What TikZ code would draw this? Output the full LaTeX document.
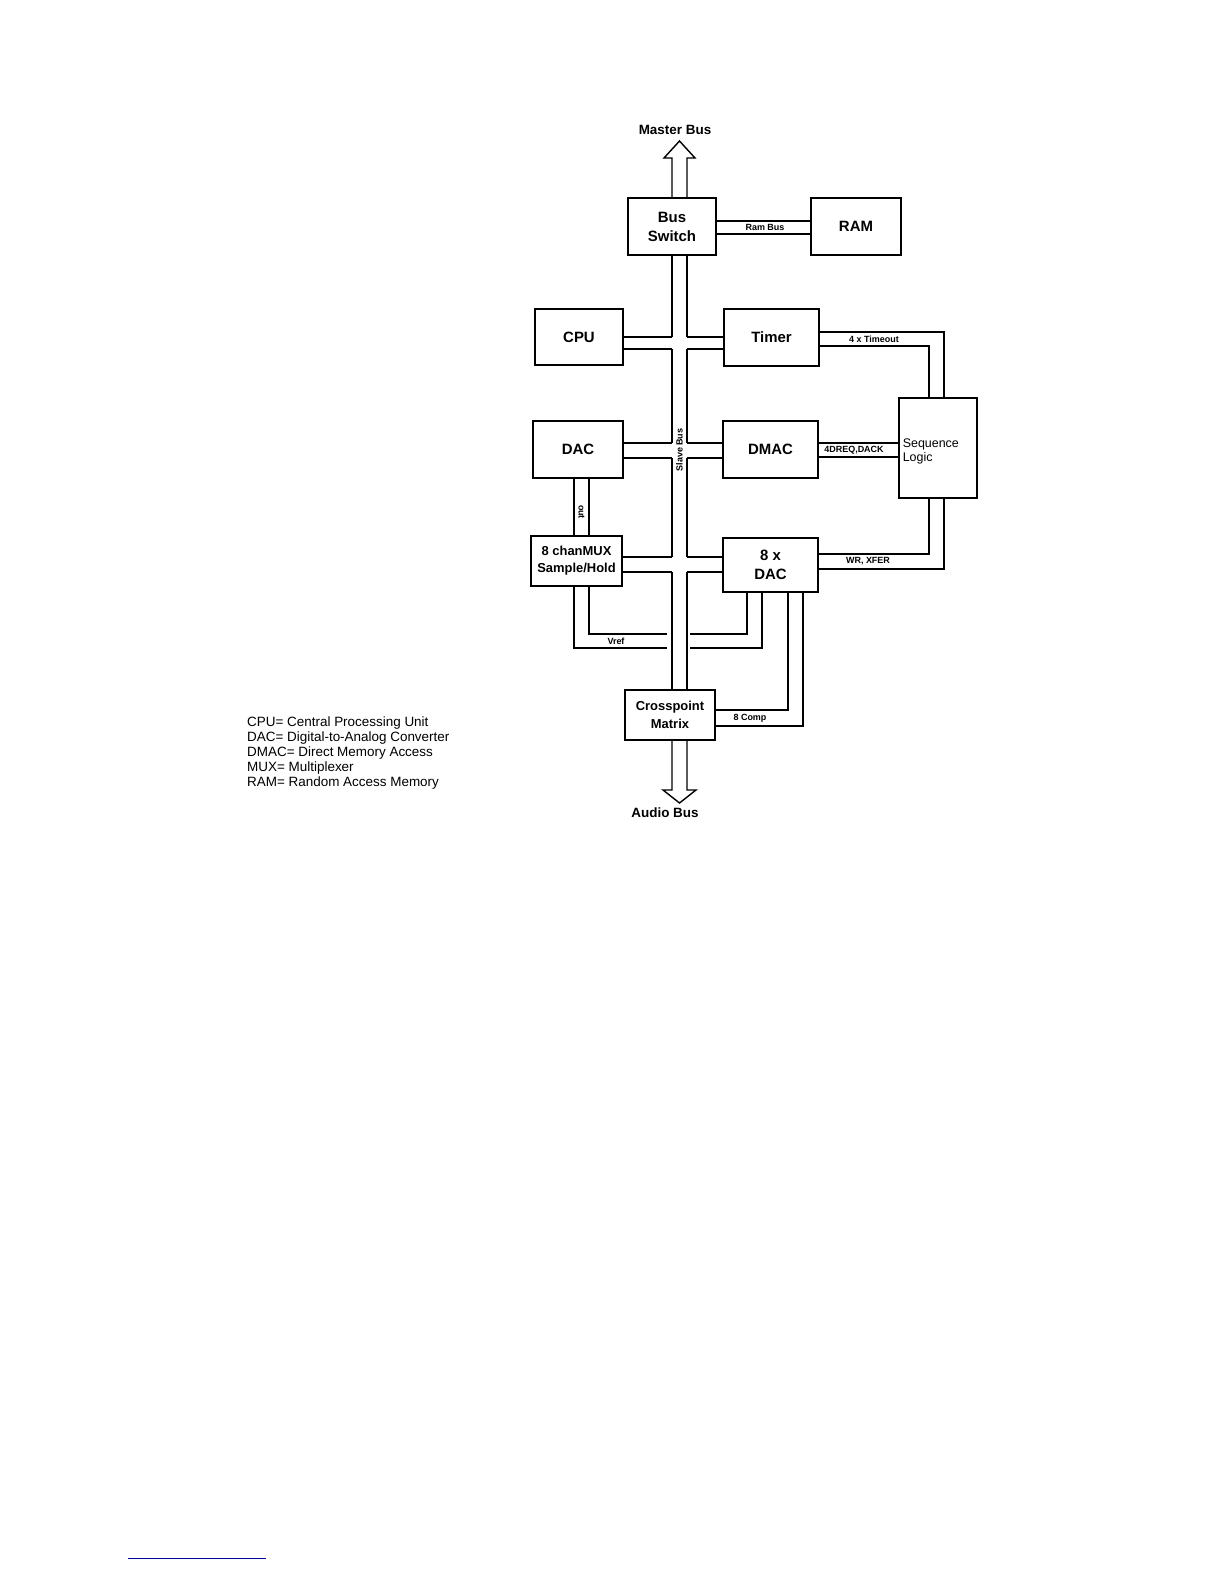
\documentclass[tikz,border=0pt]{standalone}
\usepackage{fontspec}
\setmainfont{Liberation Sans}
\usetikzlibrary{calc}
\tikzset{
	every block/.style={
		draw,
		line width=1.6bp,
		font=\fontsize{15}{17}\selectfont\bfseries,
		align=center,
		inner sep=0pt
	},
	wire/.style={line width=1.4bp},
	tag/.style={font=\fontsize{9}{10}\selectfont\bfseries, inner sep=1pt},
}
\begin{document}
\begin{tikzpicture}[x=1bp, y=-1bp]
\useasboundingbox (0,0) rectangle (1224,1584);

% blocks
\node [every block, minimum width=88bp, minimum height=57bp] (bs) at (672,226.5) {Bus\\[2pt]Switch};
\node [every block, minimum width=90bp, minimum height=57bp] (ram) at (856,226.5) {RAM};
\node [every block, minimum width=88bp, minimum height=56bp] (cpu) at (579,337) {CPU};
\node [every block, minimum width=95bp, minimum height=57bp] (timer) at (771.5,337.5) {Timer};
\node [every block, minimum width=90bp, minimum height=57bp] (dac) at (578,449.5) {DAC};
\node [every block, minimum width=95bp, minimum height=57bp] (dmac) at (770.5,449.5) {DMAC};
\node [every block, minimum width=76bp, minimum height=100bp, font=\fontsize{12.5}{14}\selectfont, anchor=north west, text width=70bp, align=left, inner sep=4bp] (seq) at (898,397) {\\[2pt]Sequence\\Logic};
\node [every block, minimum width=91bp, minimum height=50bp, font=\fontsize{13}{17}\selectfont\bfseries] (mux) at (576.5,561) {8 chanMUX\\Sample/Hold};
\node [every block, minimum width=95bp, minimum height=54bp] (dac8) at (770.5,565) {8 x\\[2pt]DAC};
\node [every block, minimum width=90bp, minimum height=50bp, font=\fontsize{13}{18}\selectfont\bfseries] (cp) at (670,715) {Crosspoint\\Matrix};

% slave bus
\coordinate (bl) at (672,0);
\coordinate (br) at (687,0);
\foreach \a/\b in {255/337, 349/443, 458/557, 572/690} {
	\draw [wire] (bl |- 0,\a) -- (bl |- 0,\b);
	\draw [wire] (br |- 0,\a) -- (br |- 0,\b);
}
\foreach \y/\l/\r in {337/cpu/timer, 349/cpu/timer, 443/dac/dmac, 458/dac/dmac, 557/mux/dac8, 572/mux/dac8} {
	\draw [wire] (\l.east |- 0,\y) -- (bl |- 0,\y);
	\draw [wire] (br |- 0,\y) -- (\r.west |- 0,\y);
}
\node [tag, rotate=90] at (679.5,450) {Slave Bus};

% master bus and audio bus
\draw [wire] (bl |- bs.north) -- (672,158) -- (664,158) -- (679.5,141) -- (695,158) -- (687,158) -- (br |- bs.north);
\draw [wire] (bl |- cp.south) -- (672,790) -- (663,790) -- (679.5,803) -- (696,790) -- (687,790) -- (br |- cp.south);
\node [font=\fontsize{13.5}{15}\selectfont\bfseries] (mbus) at (675,130) {Master Bus};
\node [font=\fontsize{13.5}{15}\selectfont\bfseries] (abus) at (665,813) {Audio Bus};

% ram bus
\draw [wire] (bs.east |- 0,221) -- (ram.west |- 0,221);
\draw [wire] (bs.east |- 0,234) -- (ram.west |- 0,234);
\node [tag] at (765,227.5) {Ram Bus};

% timer, dmac, 8x dac to sequence logic
\draw [wire] (timer.east |- 0,332) -- (944,332) -- (944,0 |- seq.north);
\draw [wire] (timer.east |- 0,346) -- (929,346) -- (929,0 |- seq.north);
\node [tag] at (874,339) {4 x Timeout};
\draw [wire] (dmac.east |- 0,443) -- (seq.west |- 0,443);
\draw [wire] (dmac.east |- 0,457) -- (seq.west |- 0,457);
\node [tag] at (854,450) {4DREQ,DACK};
\draw [wire] (929,0 |- seq.south) -- (929,554) -- (dac8.east |- 0,554);
\draw [wire] (944,0 |- seq.south) -- (944,569) -- (dac8.east |- 0,569);
\node [tag] at (868,561.5) {WR, XFER};

% dac to mux
\draw [wire] (574,0 |- dac.south) -- (574,0 |- mux.north);
\draw [wire] (589,0 |- dac.south) -- (589,0 |- mux.north);
\node [tag, rotate=-90] at (581.5,512) {out};

% vref
\draw [wire] (574,0 |- mux.south) -- (574,648) -- (667,648);
\draw [wire] (589,0 |- mux.south) -- (589,634) -- (667,634);
\draw [wire] (690,648) -- (762,648) -- (762,0 |- dac8.south);
\draw [wire] (690,634) -- (747,634) -- (747,0 |- dac8.south);
\node [tag] at (616,641) {Vref};

% comparators
\draw [wire] (788,0 |- dac8.south) -- (788,710) -- (cp.east |- 0,710);
\draw [wire] (803,0 |- dac8.south) -- (803,726) -- (cp.east |- 0,726);
\node [tag] at (750,718) {8 Comp};

% legend
\node [anchor=north west, align=left, font=\fontsize{13.5}{15}\selectfont, inner sep=0pt] (legend) at (247,717) {CPU= Central Processing Unit\\DAC= Digital-to-Analog Converter\\DMAC= Direct Memory Access\\MUX= Multiplexer\\RAM= Random Access Memory};

\draw [line width=0.8bp, blue!60!black] (128,1558) -- (266,1558);
\end{tikzpicture}
\end{document}
